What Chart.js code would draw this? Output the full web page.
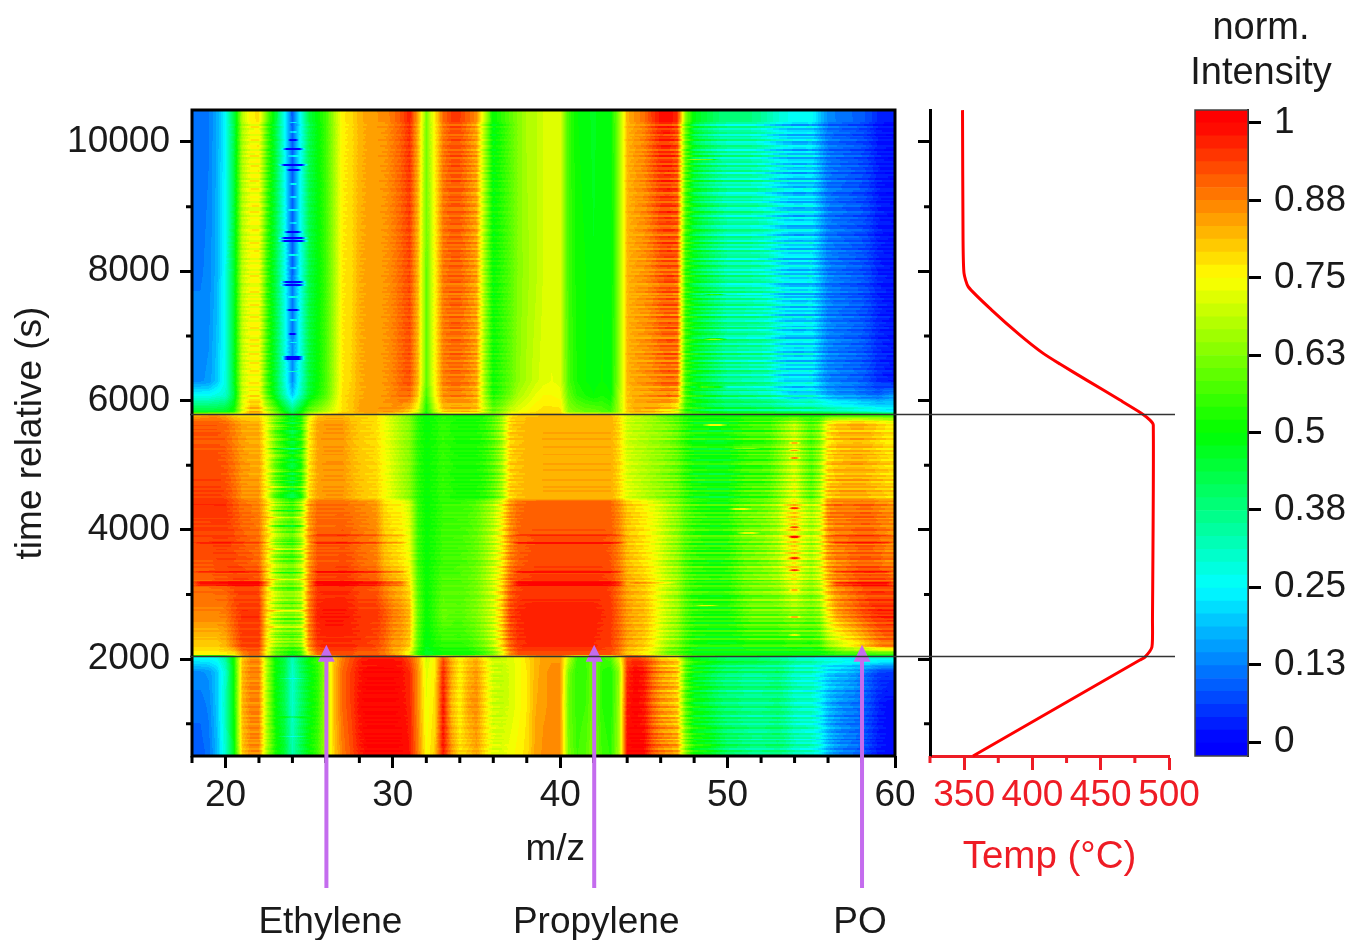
<!DOCTYPE html>
<html><head><meta charset="utf-8">
<script src="https://cdn.jsdelivr.net/npm/chart.js@4"></script>
<style>
html,body{margin:0;padding:0;background:#fff;width:1351px;height:940px;overflow:hidden}
canvas{position:absolute;left:0;top:0}
</style></head><body>
<canvas id="main" width="1351" height="940"></canvas>
<canvas id="temp" width="1351" height="940"></canvas>
<canvas id="bar" width="1351" height="940"></canvas>
<script>
// ---------- DATA ----------
const mzColumns = [18,18.5,19,19.5,20,20.5,21,21.5,22,22.5,23,23.5,24,24.5,25,25.5,26,26.5,27,27.5,28,28.5,29,29.5,30,30.5,31,31.5,32,32.5,33,33.5,34,34.5,35,35.5,36,36.5,37,37.5,38,38.5,39,39.5,40,40.5,41,41.5,42,42.5,43,43.5,44,44.5,45,45.5,46,46.5,47,47.5,48,48.5,49,49.5,50,50.5,51,51.5,52,52.5,53,53.5,54,54.5,55,55.5,56,56.5,57,57.5,58,58.5,59,59.5,60];
const row500 = [9,9,11,18,30,48,80,86,86,66, 52,46,33,42,50,56,67,80,88,92, 97,100,100,100,100,100,98,88,75,80, 98,86,78,80,84,78,72,72,74,76, 78,84,86,86,86,62,56,58,64,56, 54,66,100,100,100,92,88,86,84,64, 52,50,48,44,40,39,38,36,36,37, 38,36,32,31,30,26,18,14,12,11, 9,5,2,1,1];
const row1300 = [11,11,13,20,32,50,82,87,87,66, 50,43,30,40,48,54,66,82,90,94, 99,100,100,100,100,99,97,86,73,78, 98,82,76,84,86,78,70,69,71,74, 77,83,85,86,86,60,55,56,62,54, 52,65,98,100,98,90,85,83,80,58, 48,46,43,40,38,38,36,36,36,37, 38,35,31,30,30,25,18,15,13,12, 10,7,3,1,1];
const row1800 = [14,14,15,20,30,50,82,87,87,66, 50,44,30,40,48,54,66,82,90,94, 98,100,100,100,100,99,96,86,72,77, 96,84,76,82,85,78,70,69,71,74, 77,82,85,86,86,62,54,55,62,54, 52,64,96,100,98,90,85,83,80,58, 48,46,43,40,38,38,36,36,36,37, 38,35,31,30,30,26,21,19,18,16, 13,9,6,5,5];
const row2040 = [27,27,27,28,35,52,80,86,86,66, 50,44,32,42,50,56,68,80,88,92, 96,98,98,98,98,97,92,84,70,76, 92,82,76,80,82,76,70,70,72,74, 78,82,84,85,85,70,56,56,62,56, 58,72,92,94,92,88,82,80,78,60, 52,50,48,46,44,44,44,44,42,40, 38,36,34,32,32,30,30,30,28,28, 30,32,32,32,32];
const row2070 = [76,76,76,76,76,76,86,90,90,74, 60,55,50,55,78,90,92,92,92,92, 90,90,90,88,84,80,72,54,46,48, 50,50,50,50,52,56,62,72,86,92, 92,92,92,92,92,92,92,92,92,92, 92,88,80,78,76,72,66,60,58,54, 50,50,50,50,50,50,50,50,50,50, 50,50,50,50,50,50,52,54,55,55, 55,54,54,54,54];
const row2200 = [80,80,80,80,82,88,94,94,94,76, 64,60,58,62,86,95,96,96,96,96, 95,94,93,90,85,84,80,58,48,52, 54,54,54,55,58,62,68,78,90,95, 96,96,96,96,96,96,96,96,96,95, 94,90,84,82,80,76,70,65,62,56, 52,51,50,50,50,50,52,53,53,53, 53,54,55,54,54,56,64,68,72,75, 78,82,86,88,88];
const row2700 = [87,87,87,87,88,92,95,95,95,78, 68,63,62,66,88,97,98,98,98,97, 95,95,95,92,88,86,82,60,50,55, 60,59,58,60,62,66,70,80,93,96, 97,97,97,97,97,97,97,97,97,96, 95,90,85,83,82,78,72,68,65,58, 54,53,52,52,52,55,58,60,60,60, 60,62,64,62,60,63,76,84,87,89, 92,94,96,96,96];
const row3500 = [92,92,92,93,93,93,92,91,90,78, 66,60,58,66,85,92,92,92,93,92, 90,89,88,82,80,78,74,56,50,53, 56,56,57,58,60,64,69,76,87,91, 92,93,93,93,93,93,93,93,93,93, 92,88,82,80,78,75,71,67,64,58, 55,54,53,53,54,57,60,61,62,64, 66,72,78,70,66,72,84,87,88,90, 91,91,90,88,87];
const row4440 = [95,95,95,95,95,92,89,88,87,78, 65,58,54,64,84,89,89,89,89,88, 87,86,85,78,76,75,70,55,50,52, 55,55,55,56,58,62,66,74,85,89, 90,90,90,90,90,90,90,90,90,90, 90,86,80,78,76,73,70,66,63,58, 55,53,52,52,52,56,58,59,60,62, 65,72,78,70,65,70,86,88,88,88, 89,89,87,86,85];
const row4480 = [94,94,94,94,93,90,86,85,85,74, 60,52,46,54,78,84,85,85,85,83, 81,80,79,75,71,67,63,54,50,52, 55,53,52,52,52,54,58,65,79,81, 82,82,83,83,83,83,83,83,83,83, 83,79,72,70,68,66,64,62,60,55, 51,50,49,49,49,52,55,56,56,58, 62,67,72,64,58,66,80,82,83,83, 83,82,81,80,79];
const row5650 = [91,91,91,91,90,87,84,83,83,72, 60,52,45,52,76,84,85,85,85,82, 80,79,78,74,70,66,63,54,50,52, 55,53,52,52,52,54,58,65,79,81, 82,82,83,83,83,83,83,83,83,83, 83,79,70,68,67,65,64,62,59,54, 50,50,49,49,50,52,54,55,55,56, 60,64,68,62,57,62,76,80,81,82, 82,81,79,77,76];
const row5770 = [84,85,86,86,84,80,78,78,78,72, 64,56,48,54,72,80,82,82,82,80, 79,79,78,74,70,66,62,54,50,52, 54,53,52,52,52,54,58,66,78,80, 81,81,82,82,82,82,82,82,82,82, 82,78,72,70,68,66,62,60,58,54, 52,52,52,52,52,52,54,54,54,54, 54,54,55,54,54,54,56,56,56,56, 56,56,56,56,56];
const row5830 = [46,46,46,46,47,52,72,82,82,70, 60,50,40,50,60,64,68,73,78,80, 84,85,85,85,85,84,80,72,52,68, 80,82,82,82,81,70,60,64,70,73, 75,77,78,78,78,64,62,60,60,58, 56,66,80,83,83,83,80,78,73,55, 50,47,44,43,42,42,41,41,40,40, 38,38,37,36,36,36,35,34,33,32, 30,30,28,26,25];
const row6080 = [26,26,26,28,30,44,70,76,76,58, 46,33,20,32,46,52,58,68,78,80, 83,84,84,85,87,89,90,80,56,74, 86,87,87,86,83,66,52,56,61,67, 70,73,75,75,74,60,54,52,50,52, 50,66,81,83,84,85,86,87,85,57, 48,45,42,39,36,36,35,34,33,32, 29,26,23,24,25,21,17,15,14,14, 12,11,10,13,15];
const row6300 = [14,14,15,20,28,46,69,75,75,56, 44,30,14,29,44,50,57,67,77,79, 83,84,84,85,87,90,92,82,60,75, 87,89,89,87,84,65,51,55,59,64, 67,70,72,73,72,57,52,50,49,50, 49,64,82,84,85,86,88,89,88,56, 47,44,41,38,35,35,34,33,33,31, 26,23,22,22,23,17,13,12,11,10, 9,7,4,3,2];
const row8000 = [12,12,13,18,27,45,68,74,74,55, 43,28,10,27,43,49,56,66,77,78, 83,84,84,85,87,90,93,82,60,75, 88,90,90,87,84,65,50,54,58,63, 66,68,71,72,72,56,51,50,48,50, 48,64,82,84,85,87,90,91,90,55, 46,42,39,36,33,33,33,32,31,29, 25,22,21,21,22,17,12,11,10,9, 8,6,3,2,1];
const row10495 = [11,11,12,17,25,42,66,74,75,57, 44,27,8,26,42,49,56,66,76,78, 82,84,85,85,88,91,96,83,62,76, 88,92,92,88,84,66,48,53,58,63, 67,68,71,72,72,56,50,49,47,50, 48,65,82,85,87,92,96,96,92,60, 44,40,37,34,33,33,33,32,30,27, 24,22,20,20,21,16,11,10,9,8, 7,5,2,1,1];
const heatTimes = [500,1300,1800,2040,2070,2200,2700,3500,4440,4480,5650,5770,5830,6080,6300,8000,10495];
const heatRows = [row500,row1300,row1800,row2040,row2070,row2200,row2700,row3500,row4440,row4480,row5650,row5770,row5830,row6080,row6300,row8000,row10495];

// Streaks: [time, mz from, mz to, change in %]
const bandStreaks = [
[3150,18,23,7],[3175,18,23,9],[3200,18,23,6],[3150,25,31,6],[3175,25,31,8],[3200,25,31,6],[3150,37,44,6],[3175,37,44,7],[3200,37,44,5],[3175,44,47,6],[3175,56,60,9],[3150,56,60,6],
[3350,18,23,5],[3350,25,31,7],[3350,37,44,6],[3350,56,60,7],[3794,18,23,4],[3794,25,31,6],[3794,37,44,7],[3794,56,60,7],[3918,25,31,4],[3918,37,44,4],[3918,56,60,3]];
const blueDashes = [
[10029,23.7,24.4,-18],[9890,23.3,24.8,-30],[9642,23.1,25,-30],[9565,23.6,24.6,-25],[8606,23.4,24.7,-25],[8513,23.1,25,-30],[8467,23.1,25,-30],[7832,23.2,24.9,-30],[7786,23.2,24.9,-25],[7399,23.6,24.5,-25],[7028,23.7,24.3,-18],[6672,23.3,24.8,-30],[6641,23.3,24.8,-30],
[10300,23.8,24.3,14],[10150,23.8,24.3,12],[9780,23.7,24.4,12],[9350,23.8,24.3,14],[9150,23.8,24.3,12],[8950,23.7,24.4,14],[8750,23.8,24.3,10],[8250,23.7,24.4,14],[8050,23.8,24.3,10],[7600,23.7,24.4,14],[7250,23.8,24.3,14],[6900,23.8,24.3,12],[6450,23.7,24.4,14]];
const spotStreaks = [
[5342,53.6,54.4,16],[5233,53.6,54.4,12],[5109,53.6,54.4,16],[4335,53.6,54.4,18],[4042,53.6,54.4,16],[3887,53.6,54.4,20],[3562,53.6,54.4,16],[3376,53.6,54.4,18],[3067,53.6,54.4,16],[2650,53.6,54.4,14],[2371,53.6,54.4,12],
[5620,48.5,50,22],[5260,50,52,14],[4320,50,51.5,14],[3955,50.5,52,16],[2830,48,49.5,16],[9730,47.5,49.5,20],[6950,48.5,50,20],[6210,48,50,18],[7640,48.5,50,22]];
const waveStreaks = [
[5600,22.3,25,7],[5500,22.3,25,-6],[5380,22.3,25,6],[5260,22.3,25,-7],[5140,22.3,25,6],[5020,22.3,25,-6],[4900,22.3,25,7],[4780,22.3,25,-7],[4660,22.3,25,7],[4540,22.3,25,-6],[4420,22.3,25,8],[4300,22.3,25,-8],[4180,22.3,25,8],[4060,22.3,25,-7],[3940,22.3,25,8],[3820,22.3,25,-8],[3700,22.3,25,8],[3580,22.3,25,-7],[3460,22.3,25,8],[3340,22.3,25,-8],[3220,22.3,25,8],[3100,22.3,25,-7],[2980,22.3,25,8],[2860,22.3,25,-8],[2740,22.3,25,8],[2620,22.3,25,-7],[2500,22.3,25,8],[2380,22.3,25,-7],[2260,22.3,25,7],
[1100,23,25,7],[1700,23,25,-7],[800,23,25,-7]];
const allStreaks = [...bandStreaks,...blueDashes,...spotStreaks,...waveStreaks];

// Row-to-row streak strength, one value per 30 s from 500 s up (in %)
const rowStreak = [
3,-2,4,-5,1,6,-3,2,-6,4,-1,5,-4,-2,6,1,-5,3,-3,5,-6,2,4,-2,-4,6,0,-5,3,5,-3,-1,4,-6,2,
6,-2,3,-5,1,5,-4,-1,7,-3,4,-6,2,5,-2,-5,6,1,-4,3,-6,5,2,-3,-1,7,-5,3,-2,6,-4,1,5,-6,3,
-2,6,-4,2,-1,5,-6,4,1,-3,7,-2,-5,3,6,-4,0,5,-3,2,-6,6,-1,4,-5,3,-2,7,-4,1,-6,5,2,-3,6,
-5,3,-1,4,-6,5,-2,2,7,-4,-3,6,1,-5,4,-2,3,-6,6,-1,5,-4,2,-3,7,-5,1,4,-6,3,-2,6,-4,5,
-1,2,-5,7,-3,4,-6,1,5,-2,-4,6,3,-5,2,-1,6,-3,4,-6,5,1,-2,-4,7,-3,2,5,-6,3,-1,4,-5,6,
-2,1,-4,5,3,-6,6,-1,-3,4,2,-5,7,-2,-4,5,1,-6,3,6,-3,-1,4,-5,2,6,-4,3,-2,5,-6,1,4,-3,
7,-5,2,-1,5,-4,3,6,-6,-2,4,1,-5,6,-3,2,5,-4,-1,7,-6,3,-2,4,-5,6,1,-3,5,-4,2,-6,6,-1,
4,-3,-6,5,2,-1,7,-4,3,-5,1,6,-2,-3,5,-6,4,2,-1,6,-5,3,-2,7,-4,1,5,-6,-1,3,6,-3,-5,4,2,
-2,5,-6,1,7,-3,-4,6,2,-5,3,-1,5,-2,-6,4,6,-4,1,-3,7,-5,2,3,-6,5,-1,-2,6,-4,3,1,-5,7,-3,
4,-6,2,5,-2,-4,6,-1,3,-5,4,1,-3,6,-6,2,5];
// How strongly the streaks show in each m/z column, for the three periods of the run
const streakWeightLow  = [0,0,0,0,0,0,3,5,5,5, 4,2,0,4,5,2,0,0,0,0, 2,3,3,2,2,2,0,0,0,0, 4,4,4,4,3,5,6,3,0,0, 0,0,0,0,0,0,0,0,0,0, 0,0,2,3,5,8,10,10,10,10, 12,12,12,12,12,12,12,12,12,12, 12,12,12,12,12,10,8,8,6,6, 5,4,3,2,0];
const streakWeightMid  = [2,2,2,2,2,3,3,3,3,6, 10,10,10,10,6,2,2,2,2,2, 2,2,2,3,4,4,4,4,2,3, 3,3,3,4,5,7,10,10,7,2, 1,1,1,1,1,1,1,1,1,1, 1,4,5,5,5,5,7,10,10,10, 13,13,13,13,13,13,13,13,13,13, 13,13,13,13,13,13,10,8,7,7, 7,7,7,7,7];
const streakWeightHigh = [0,0,0,0,0,2,4,7,7,7, 4,2,0,2,4,2,1,1,1,1, 1,1,1,2,2,3,4,3,0,2, 4,6,6,7,7,6,6,4,2,0, 0,0,0,0,0,0,0,0,0,0, 0,0,2,3,5,7,9,11,11,8, 13,14,15,15,15,15,15,15,15,15, 15,15,15,15,15,10,7,6,6,6, 6,5,4,4,4];

const mzMajorTicks = [20,30,40,50,60];
const mzMinorTicks = [18,22,24,26,28,32,34,36,38,42,44,46,48,52,54,56,58];
const timeMajorTicks = [2000,4000,6000,8000,10000];
const timeMinorTicks = [1000,3000,5000,7000,9000];
const tempSeriesT = [356.5,400.4,449.4,478.7,482.4,487.5,487.9,488.5,486.1,480,464.1,439.7,420.2,407.9,390.9,370.2,353,349.9,349.2,348.8];
const tempSeriesTime = [500,1033,1629,1985,2030,2186,2603,5620,5697,5801,6007,6316,6564,6729,7012,7399,7760,7971,8482,10493];
const tempMajorTicks = [350,400,450,500];
const tempMinorTicks = [325,375,425,475];
const cbTicks = [0,0.125,0.25,0.375,0.5,0.625,0.75,0.875,1];
const cbTickLabels = ['0','0.13','0.25','0.38','0.5','0.63','0.75','0.88','1'];
const cbMin = -0.0226, cbMax = 1.021, cbLevels = 50;
const phaseLines = [2046,5790];
const arrowMz = [26,42,58];
const arrowNames = ['Ethylene','Propylene','PO'];
const arrowTipTime = 2220;

// ---------- STYLE ----------
const FONT = '"Liberation Sans", Arial, sans-serif';
const SIZE = 37;
const INK = '#1a1a1a';
const RED = '#ee1c25';
Chart.defaults.font.family = FONT;
Chart.defaults.font.size = SIZE;
Chart.defaults.color = INK;
Chart.defaults.animation = false;

function rainbow(v){
  v = Math.max(0,Math.min(1,v));
  const s = v*4, i = Math.min(3,Math.floor(s)), f = s-i;
  if(i===0) return [0,Math.round(255*f),255];
  if(i===1) return [0,255,Math.round(255*(1-f))];
  if(i===2) return [Math.round(255*f),255,0];
  return [255,Math.round(255*(1-f)),0];
}
function levelOf(v){ return Math.max(0,Math.min(cbLevels-1,Math.floor((v-cbMin)/(cbMax-cbMin)*cbLevels))); }
function levelVal(n){ return cbMin+(n+0.5)*(cbMax-cbMin)/cbLevels; }

const heatPoints = [];
heatRows.forEach((r,j)=>r.forEach((v,i)=>heatPoints.push({x:mzColumns[i],y:heatTimes[j],v})));

function paintTicks(ctx,scale,values,len,width,color){
  ctx.save();ctx.strokeStyle=color;ctx.lineWidth=width;ctx.beginPath();
  values.forEach(v=>{
    const p=scale.getPixelForValue(v);
    if(scale.isHorizontal()){ctx.moveTo(p,scale.top);ctx.lineTo(p,scale.top+len);}
    else {ctx.moveTo(scale.right,p);ctx.lineTo(scale.right-len,p);}
  });
  ctx.stroke();ctx.restore();
}
function fixed(w,h){ return s=>{ if(w) s.width=w; if(h) s.height=h; }; }

let heatCanvas=null;
const heatPlugin = {
  id:'heatPlugin',
  beforeDatasetsDraw(chart){
    const {ctx,chartArea:a,scales:{x,y}}=chart;
    const W=Math.round(a.right-a.left),H=Math.round(a.bottom-a.top);
    if(!heatCanvas){
      heatCanvas=document.createElement('canvas');heatCanvas.width=W;heatCanvas.height=H;
      const c=heatCanvas.getContext('2d'),img=c.createImageData(W,H),d=img.data;
      const n=mzColumns.length,pxI=new Int32Array(W),pxF=new Float32Array(W),pxM=new Float32Array(W);
      for(let px=0;px<W;px++){
        const m=x.getValueForPixel(a.left+px+0.5);pxM[px]=m;
        const u=Math.max(0,Math.min(n-1.0001,(m-mzColumns[0])/(mzColumns[1]-mzColumns[0])));
        pxI[px]=Math.floor(u);pxF[px]=u-pxI[px];
      }
      const line=new Float32Array(n);
      for(let py=0;py<H;py++){
        const t=y.getValueForPixel(a.top+py+0.5);
        let j=0;while(j<heatTimes.length-2&&t>heatTimes[j+1])j++;
        const g=Math.max(0,Math.min(1,(t-heatTimes[j])/(heatTimes[j+1]-heatTimes[j])));
        const rs=rowStreak[Math.min(rowStreak.length-1,Math.max(0,Math.floor((t-500)/30)))];
        const wt=t<2046?streakWeightLow:(t<5790?streakWeightMid:streakWeightHigh);
        for(let i=0;i<n;i++)line[i]=heatRows[j][i]*(1-g)+heatRows[j+1][i]*g+rs*wt[i]/14;
        const act=allStreaks.filter(s=>Math.abs(s[0]-t)<=13);
        for(let px=0;px<W;px++){
          const i=pxI[px];let v=line[i]*(1-pxF[px])+line[i+1]*pxF[px];
          const m=pxM[px];
          for(const s of act){
            if(m>s[1]&&m<s[2]){const tp=Math.min(0.5,(s[2]-s[1])/3);v+=s[3]*Math.min(1,(m-s[1])/tp,(s[2]-m)/tp);}
          }
          const col=rainbow(levelVal(levelOf(v/100)));
          const o=(py*W+px)*4;d[o]=col[0];d[o+1]=col[1];d[o+2]=col[2];d[o+3]=255;
        }
      }
      c.putImageData(img,0,0);
    }
    ctx.drawImage(heatCanvas,a.left,a.top,a.right-a.left,a.bottom-a.top);
  },
  afterDraw(chart){
    const {ctx,chartArea:a,scales:{x,y}}=chart;
    ctx.save();
    ctx.strokeStyle='#000';ctx.lineWidth=3;ctx.strokeRect(a.left,a.top,a.right-a.left,a.bottom-a.top);
    ctx.restore();
    paintTicks(ctx,x,mzMinorTicks,7,3,'#000');
    paintTicks(ctx,y,timeMinorTicks,6,3,'#000');
    const shaft='#c46cee';
    ctx.save();
    arrowMz.forEach((m,i)=>{
      const px=x.getPixelForValue(m)+0.5,tip=y.getPixelForValue(arrowTipTime);
      ctx.fillStyle=shaft;
      ctx.fillRect(px-2,tip+14,4,888-tip-14);
      ctx.beginPath();ctx.moveTo(px,tip);ctx.lineTo(px+8.5,tip+17);ctx.lineTo(px-8.5,tip+17);ctx.closePath();ctx.fill();
      ctx.fillStyle=INK;ctx.font=SIZE+'px '+FONT;ctx.textAlign='center';ctx.textBaseline='alphabetic';
      ctx.fillText(arrowNames[i],px+[4,2,-2][i],933);
    });
    ctx.fillStyle=INK;ctx.font=SIZE+'px '+FONT;ctx.textAlign='center';ctx.textBaseline='alphabetic';
    ctx.fillText('m/z',x.getPixelForValue(39.7),860);
    ctx.restore();
  }
};
const plain = v => String(v);
const mainChart = new Chart(document.getElementById('main'),{
  type:'scatter',
  data:{datasets:[{label:'norm. Intensity',data:heatPoints,pointRadius:0,pointHoverRadius:0,showLine:false}]},
  plugins:[heatPlugin],
  options:{responsive:false,events:[],
    layout:{padding:{left:0,top:110,right:456,bottom:0}},
    plugins:{legend:{display:false},tooltip:{enabled:false},title:{display:false}},
    scales:{
      x:{type:'linear',min:18,max:60,afterFit:fixed(0,184),
        afterBuildTicks:s=>{s.ticks=mzMajorTicks.map(v=>({value:v}));},
        border:{display:false},
        grid:{drawOnChartArea:false,drawTicks:true,tickLength:12,tickWidth:3,tickColor:'#000'},
        ticks:{maxRotation:0,autoSkip:false,padding:6,color:INK,font:{size:SIZE},callback:plain}},
      y:{type:'linear',min:500,max:10495,afterFit:fixed(192,0),
        afterBuildTicks:s=>{s.ticks=timeMajorTicks.map(v=>({value:v}));},
        border:{display:false},
        grid:{drawOnChartArea:false,drawTicks:true,tickLength:12,tickWidth:3,tickColor:'#000'},
        ticks:{autoSkip:false,padding:10,color:INK,font:{size:SIZE},callback:plain},
        title:{display:true,text:'time relative (s)',color:INK,font:{size:SIZE},padding:{top:9,bottom:0}}}
    }}
});

const tempPlugin = {
  id:'tempPlugin',
  afterDraw(chart){
    const {ctx,scales:{x,y},chartArea:a}=chart;
    paintTicks(ctx,x,tempMinorTicks,7,3,RED);
    paintTicks(ctx,y,timeMinorTicks,6,3,'#000');
    const mx=mainChart.scales.x;
    ctx.save();ctx.strokeStyle='#333';ctx.lineWidth=1.3;ctx.beginPath();
    phaseLines.forEach(t=>{const p=Math.round(y.getPixelForValue(t))+0.5;ctx.moveTo(mx.left-2,p);ctx.lineTo(a.right+6,p);});
    ctx.stroke();ctx.restore();
  }
};
new Chart(document.getElementById('temp'),{
  type:'scatter',
  data:{datasets:[{label:'Temp',data:tempSeriesT.map((T,i)=>({x:T,y:tempSeriesTime[i]})),showLine:true,borderColor:'#f00',borderWidth:3,pointRadius:0,fill:false,tension:0.2,clip:false}]},
  plugins:[tempPlugin],
  options:{responsive:false,events:[],
    layout:{padding:{left:0,top:110,right:182,bottom:0}},
    plugins:{legend:{display:false},tooltip:{enabled:false}},
    scales:{
      x:{type:'linear',min:325,max:500,afterFit:fixed(0,184),
        afterBuildTicks:s=>{s.ticks=tempMajorTicks.map(v=>({value:v}));},
        border:{display:true,color:RED,width:3},
        grid:{drawOnChartArea:false,drawTicks:true,tickLength:14,tickWidth:3,tickColor:RED},
        ticks:{maxRotation:0,autoSkip:false,padding:4,color:RED,font:{size:SIZE},callback:plain},
        title:{display:true,text:'Temp (°C)',color:RED,font:{size:SIZE+1.5},padding:{top:0,bottom:60}}},
      y:{type:'linear',min:500,max:10495,afterFit:fixed(930,0),
        afterBuildTicks:s=>{s.ticks=timeMajorTicks.map(v=>({value:v}));},
        border:{display:true,color:'#000',width:3},
        grid:{drawOnChartArea:false,drawTicks:true,tickLength:12,tickWidth:3,tickColor:'#000'},
        ticks:{autoSkip:false,callback:()=>'',padding:0}}
    }}
});

const cbDatasets=[];
for(let n=0;n<cbLevels;n++){
  const c=rainbow(levelVal(n));
  cbDatasets.push({label:'level '+n,data:[[cbMin+n*(cbMax-cbMin)/cbLevels,cbMin+(n+1)*(cbMax-cbMin)/cbLevels]],
    backgroundColor:`rgb(${c[0]},${c[1]},${c[2]})`,borderWidth:0,barPercentage:1,categoryPercentage:1,grouped:false});
}
const barPlugin={
  id:'barPlugin',
  afterDraw(chart){
    const {ctx,chartArea:a}=chart;
    ctx.save();
    ctx.strokeStyle='#444';ctx.lineWidth=1.5;ctx.strokeRect(a.left,a.top,a.right-a.left,a.bottom-a.top);
    ctx.fillStyle=INK;ctx.font=(SIZE+1)+'px '+FONT;ctx.textAlign='center';ctx.textBaseline='alphabetic';
    ctx.fillText('norm.',1261,39);ctx.fillText('Intensity',1261,84);
    ctx.restore();
  }
};
new Chart(document.getElementById('bar'),{
  type:'bar',
  data:{labels:['norm. Intensity'],datasets:cbDatasets},
  plugins:[barPlugin],
  options:{responsive:false,events:[],
    layout:{padding:{left:1195,top:110,right:0,bottom:184}},
    plugins:{legend:{display:false},tooltip:{enabled:false}},
    scales:{
      x:{display:false,stacked:false},
      y:{type:'linear',position:'right',min:cbMin,max:cbMax,afterFit:fixed(103,0),
        afterBuildTicks:s=>{s.ticks=cbTicks.map(v=>({value:v}));},
        border:{display:true,color:'#000',width:2},
        grid:{drawOnChartArea:false,drawTicks:true,tickLength:13,tickWidth:3,tickColor:'#000'},
        ticks:{autoSkip:false,padding:13,color:INK,font:{size:SIZE},callback:v=>cbTickLabels[cbTicks.indexOf(v)]}}
    }}
});
</script>
</body></html>
